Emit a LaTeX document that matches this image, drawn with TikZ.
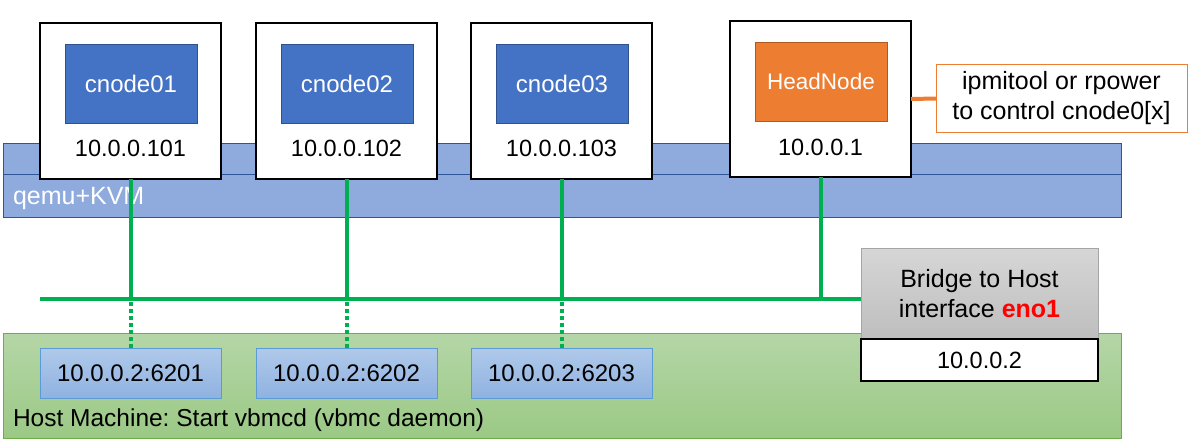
\documentclass[tikz,border=0pt]{standalone}
\usepackage{fontspec}
\setmainfont{Liberation Sans}
\frenchspacing
\definecolor{bandfill}{HTML}{8FAADC}
\definecolor{bandedge}{HTML}{2F5597}
\definecolor{vmblue}{HTML}{4472C4}
\definecolor{vmedge}{HTML}{2F528F}
\definecolor{headfill}{HTML}{ED7D31}
\definecolor{headedge}{HTML}{AE5A21}
\definecolor{lan}{HTML}{00B050}
\definecolor{hosttop}{HTML}{B5D6A7}
\definecolor{hostbot}{HTML}{9BC985}
\definecolor{hostedge}{HTML}{70AD47}
\definecolor{porttop}{HTML}{AFC9EA}
\definecolor{portbot}{HTML}{90B2E0}
\definecolor{portedge}{HTML}{5B9BD5}
\definecolor{bridgetop}{HTML}{D6D6D6}
\definecolor{bridgebot}{HTML}{BEBEBE}
\definecolor{bridgeedge}{HTML}{A5A5A5}
\begin{document}
\begin{tikzpicture}[x=1pt,y=-1pt,
  font=\fontsize{23.5}{30}\selectfont,
  every node/.style={inner sep=0pt, outer sep=0pt},
  hostbox/.style={draw=black, line width=1.2pt, fill=white, minimum width=181pt, minimum height=156pt},
  vmbox/.style={draw=vmedge, line width=0.8pt, fill=vmblue, text=white, minimum width=132pt, minimum height=79pt, font=\fontsize{24}{28}\selectfont},
  headbox/.style={draw=headedge, line width=0.8pt, fill=headfill, text=white, minimum width=132pt, minimum height=79pt, font=\fontsize{22.5}{26}\selectfont},
  iptext/.style={text=black},
  portbox/.style={draw=portedge, line width=0.8pt, top color=porttop, bottom color=portbot, minimum width=181pt, minimum height=50pt, font=\fontsize{24}{28}\selectfont},
  link/.style={draw=lan, line width=4pt},
  dotlink/.style={draw=lan, line width=4pt, dash pattern=on 4pt off 3pt},
]
\useasboundingbox (0,0) rectangle (1196,444);
\fill[white] (0,0) rectangle (1196,444);

% qemu+KVM band
\node[draw=bandedge, line width=0.9pt, fill=bandfill, minimum width=1118pt, minimum height=74pt] (kvm) at (562,180) {};
\draw[bandedge, line width=0.9pt] (3,174) -- (1121,174);
\node[anchor=base west, text=white, font=\fontsize{25}{30}\selectfont] (kvmlabel) at (13,204) {qemu+KVM};

% VM boxes
\node[hostbox] (vm1) at (130.5,101) {};
\node[vmbox] (c1) at (131,83.5) {cnode01};
\node[iptext] (ip1) at (130.5,148) {10.0.0.101};

\node[hostbox] (vm2) at (346.5,101) {};
\node[vmbox] (c2) at (347,83.5) {cnode02};
\node[iptext] (ip2) at (346.5,148) {10.0.0.102};

\node[hostbox] (vm3) at (561.5,101) {};
\node[vmbox] (c3) at (562,83.5) {cnode03};
\node[iptext] (ip3) at (561.5,148) {10.0.0.103};

\node[hostbox] (vmh) at (820.5,99) {};
\node[headbox] (head) at (821,81.5) {HeadNode};
\node[iptext] (iph) at (820.5,147) {10.0.0.1};

% control label
\node[draw=headfill, line width=1pt, fill=white, minimum width=251pt, minimum height=67pt, align=center, font=\fontsize{25}{30}\selectfont] (ctl) at (1061.5,98.5) {ipmitool or rpower\\to control cnode0[x]};
\draw[headfill, line width=4pt] (vmh.east) -- (ctl.west);

% Host machine
\node[draw=hostedge, line width=0.9pt, top color=hosttop, bottom color=hostbot, minimum width=1118pt, minimum height=105pt] (host) at (562,385.5) {};
\node[anchor=base west, text=black, font=\fontsize{24.5}{30}\selectfont] (hostlabel) at (13,426) {Host Machine: Start vbmcd (vbmc daemon)};

% vbmc ports
\node[portbox] (p1) at (130.5,373) {10.0.0.2:6201};
\node[portbox] (p2) at (346.5,373) {10.0.0.2:6202};
\node[portbox] (p3) at (561.5,373) {10.0.0.2:6203};

% bus coordinates
\coordinate (busL) at (40,299);
\coordinate (busR) at (862,299);
\coordinate (j1) at (130.5,299);
\coordinate (j2) at (346.5,299);
\coordinate (j3) at (561.5,299);
\coordinate (jh) at (820.5,299);

% links
\draw[link] (vm1.south) -- (j1);
\draw[link] (vm2.south) -- (j2);
\draw[link] (vm3.south) -- (j3);
\draw[link] (vmh.south) -- (jh);
\draw[link] (busL) -- (busR);
\draw[dotlink] (j1) ++(0,3) -- (p1.north);
\draw[dotlink] (j2) ++(0,3) -- (p2.north);
\draw[dotlink] (j3) ++(0,3) -- (p3.north);

% bridge
\node[draw=bridgeedge, line width=0.9pt, top color=bridgetop, bottom color=bridgebot, minimum width=237pt, minimum height=91pt, align=center, font=\fontsize{25}{30}\selectfont] (bridge) at (979.5,293.5) {Bridge to Host\\interface \textcolor{red}{\textbf{eno1}}};
\node[draw=black, line width=1.2pt, fill=white, minimum width=237pt, minimum height=42pt] (bip) at (979.5,360) {10.0.0.2};
\end{tikzpicture}
\end{document}
